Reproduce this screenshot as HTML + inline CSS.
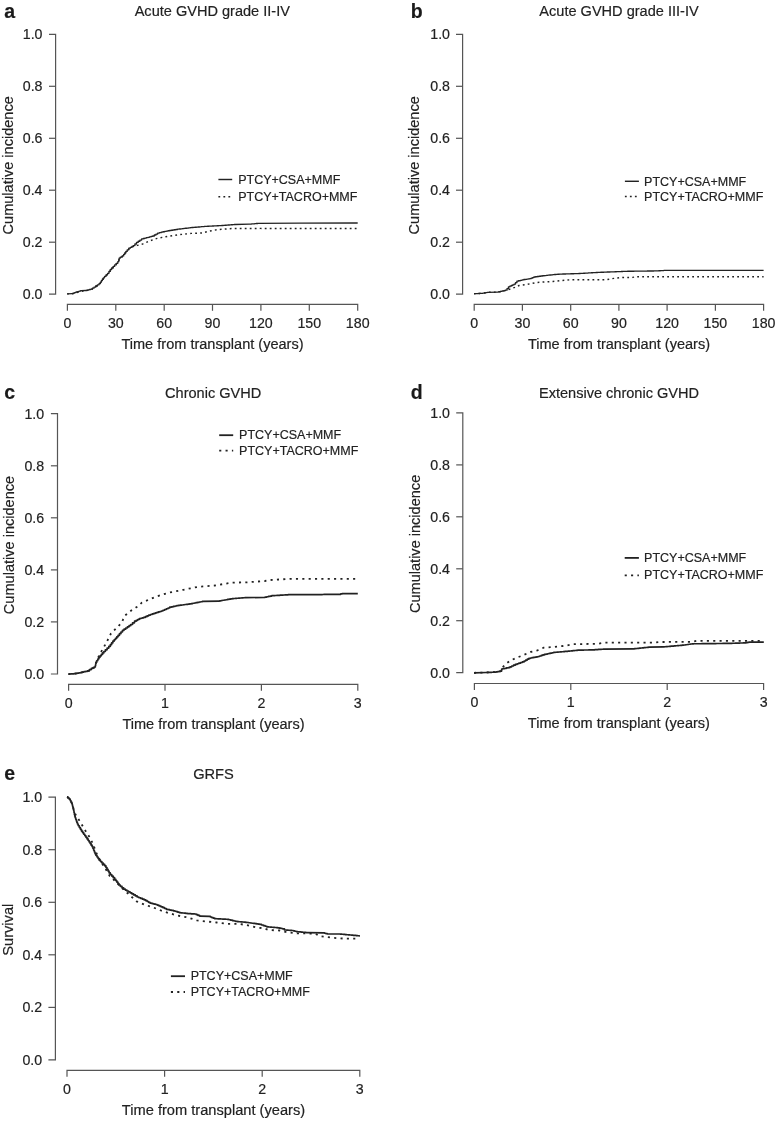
<!DOCTYPE html>
<html><head><meta charset="utf-8"><title>Figure</title>
<style>
html,body{margin:0;padding:0;background:#fff;}
svg text{stroke:#222;stroke-width:0.18px;}
svg{display:block;font-family:"Liberation Sans",sans-serif;will-change:transform;filter:grayscale(1);}
</style></head>
<body>
<svg width="776" height="1122" viewBox="0 0 776 1122">
<rect width="776" height="1122" fill="#fff"/>
<text x="4.2" y="17.6" font-size="19.5" font-weight="bold" fill="#1a1a1a">a</text>
<text x="212.3" y="16.2" font-size="14.55" text-anchor="middle" fill="#222">Acute GVHD grade II-IV</text>
<path d="M49.0,34.4H55.6V294.1H49.0" fill="none" stroke="#555" stroke-width="1.2"/>
<text x="42.5" y="298.9" font-size="14.2" text-anchor="end" fill="#222">0.0</text>
<path d="M49.0,242.2H55.6" stroke="#555" stroke-width="1.2"/>
<text x="42.5" y="247.0" font-size="14.2" text-anchor="end" fill="#222">0.2</text>
<path d="M49.0,190.2H55.6" stroke="#555" stroke-width="1.2"/>
<text x="42.5" y="195.0" font-size="14.2" text-anchor="end" fill="#222">0.4</text>
<path d="M49.0,138.3H55.6" stroke="#555" stroke-width="1.2"/>
<text x="42.5" y="143.1" font-size="14.2" text-anchor="end" fill="#222">0.6</text>
<path d="M49.0,86.3H55.6" stroke="#555" stroke-width="1.2"/>
<text x="42.5" y="91.1" font-size="14.2" text-anchor="end" fill="#222">0.8</text>
<text x="42.5" y="39.2" font-size="14.2" text-anchor="end" fill="#222">1.0</text>
<path d="M67.4,310.8V304.4H357.7V310.8" fill="none" stroke="#555" stroke-width="1.2"/>
<text x="67.4" y="327.6" font-size="14.2" text-anchor="middle" fill="#222">0</text>
<path d="M115.8,304.4V310.8" stroke="#555" stroke-width="1.2"/>
<text x="115.8" y="327.6" font-size="14.2" text-anchor="middle" fill="#222">30</text>
<path d="M164.2,304.4V310.8" stroke="#555" stroke-width="1.2"/>
<text x="164.2" y="327.6" font-size="14.2" text-anchor="middle" fill="#222">60</text>
<path d="M212.5,304.4V310.8" stroke="#555" stroke-width="1.2"/>
<text x="212.5" y="327.6" font-size="14.2" text-anchor="middle" fill="#222">90</text>
<path d="M260.9,304.4V310.8" stroke="#555" stroke-width="1.2"/>
<text x="260.9" y="327.6" font-size="14.2" text-anchor="middle" fill="#222">120</text>
<path d="M309.3,304.4V310.8" stroke="#555" stroke-width="1.2"/>
<text x="309.3" y="327.6" font-size="14.2" text-anchor="middle" fill="#222">150</text>
<text x="357.7" y="327.6" font-size="14.2" text-anchor="middle" fill="#222">180</text>
<text x="212.5" y="348.9" font-size="14.55" text-anchor="middle" fill="#222">Time from transplant (years)</text>
<text transform="translate(12.9,165.3) rotate(-90)" font-size="14.55" text-anchor="middle" fill="#222">Cumulative incidence</text>
<polyline points="67.1,293.9 72.2,293.8 76.8,292.6 81.3,291.4 85.8,290.9 91.6,289.3 94.8,287.3 99.9,283.7 103.8,277.9 108.3,273.4 110.9,269.6 115.4,265.0 118.6,261.8 119.3,258.3 123.1,256.0 126.4,251.5 129.6,248.3 134.1,245.8 137.3,245.4 142.5,244.1 147.6,241.8 152.8,239.8 157.1,238.4 164.2,237.0 178.3,234.8 191.1,233.4 202.4,233.0 208.1,231.3 218.0,229.6 232.2,228.5 260.0,228.4 357.7,228.4" fill="none" stroke="#222" stroke-width="1.45" stroke-dasharray="1.8 3.2" stroke-linejoin="round"/>
<path d="M67.1,293.9L72.2,293.7H72.97V293.13H74.50V292.57H76.03V292.00H76.8H77.55V291.57H79.05V291.13H80.55V290.70H81.3L85.8,290.5H86.52V290.18H87.97V289.85H89.42V289.52H90.88V289.20H91.6H92.40V288.20H94.00V287.20H94.8H95.65V286.00H97.35V284.80H99.05V283.60H99.9H100.39V282.15H101.36V280.70H102.34V279.25H103.31V277.80H103.8H104.55V276.30H106.05V274.80H107.55V273.30H108.3H108.95V271.40H110.25V269.50H110.9H111.65V267.97H113.15V266.43H114.65V264.90H115.4H116.20V263.30H117.80V261.70H118.6H118.77V259.95H119.12V258.20H119.3H120.25V257.05H122.15V255.90H123.1H123.65V254.40H124.75V252.90H125.85V251.40H126.4H127.20V249.80H128.80V248.20H129.6H130.35V247.33H131.85V246.47H133.35V245.60H134.1H134.90V244.00H136.50V242.40H137.3H138.17V241.23H139.90V240.07H141.63V238.90H142.5H143.27V238.50H144.81V238.10H146.35V237.70H147.89V237.30H149.43V236.90H150.2H151.02V236.45H152.68V236.00H153.5H154.33V235.03H156.00V234.07H157.67V233.10H158.5H159.39V232.65H161.16V232.20H162.94V231.75H164.71V231.30H165.6H166.39V231.04H167.98V230.78H169.57V230.51H171.16V230.25H172.74V229.99H174.33V229.72H175.92V229.46H177.51V229.20H178.3H179.09V229.01H180.67V228.82H182.24V228.63H183.82V228.44H185.40V228.26H186.98V228.07H188.56V227.88H190.13V227.69H191.71V227.50H192.5H193.29V227.37H194.87V227.23H196.44V227.10H198.02V226.97H199.60V226.83H201.18V226.70H202.76V226.57H204.33V226.43H205.91V226.30H206.7H207.49V226.22H209.07V226.14H210.64V226.07H212.22V225.99H213.80V225.91H215.38V225.83H216.96V225.76H218.53V225.68H220.11V225.60H220.9H221.68V225.48H223.25V225.36H224.82V225.23H226.38V225.11H227.95V224.99H229.52V224.87H231.08V224.74H232.65V224.62H234.22V224.50H235.0L249.2,224.2H249.97V224.07H251.52V223.93H253.07V223.80H254.62V223.67H256.18V223.53H257.73V223.40H258.5L300.0,223.2L357.7,223.0" fill="none" stroke="#222" stroke-width="1.33" stroke-linejoin="round"/>
<path d="M218.4,179.5H232.2" stroke="#222" stroke-width="1.45"/>
<path d="M218.4,196.8H232.2" stroke="#222" stroke-width="1.45" stroke-dasharray="1.8 3.2"/>
<text x="238.2" y="183.7" font-size="12.5" fill="#222">PTCY+CSA+MMF</text>
<text x="238.2" y="201.4" font-size="12.5" fill="#222">PTCY+TACRO+MMF</text>
<text x="410.8" y="17.6" font-size="19.5" font-weight="bold" fill="#1a1a1a">b</text>
<text x="619" y="16.2" font-size="14.55" text-anchor="middle" fill="#222">Acute GVHD grade III-IV</text>
<path d="M456.0,34.4H462.6V294.1H456.0" fill="none" stroke="#555" stroke-width="1.2"/>
<text x="450.0" y="298.9" font-size="14.2" text-anchor="end" fill="#222">0.0</text>
<path d="M456.0,242.2H462.6" stroke="#555" stroke-width="1.2"/>
<text x="450.0" y="247.0" font-size="14.2" text-anchor="end" fill="#222">0.2</text>
<path d="M456.0,190.2H462.6" stroke="#555" stroke-width="1.2"/>
<text x="450.0" y="195.0" font-size="14.2" text-anchor="end" fill="#222">0.4</text>
<path d="M456.0,138.3H462.6" stroke="#555" stroke-width="1.2"/>
<text x="450.0" y="143.1" font-size="14.2" text-anchor="end" fill="#222">0.6</text>
<path d="M456.0,86.3H462.6" stroke="#555" stroke-width="1.2"/>
<text x="450.0" y="91.1" font-size="14.2" text-anchor="end" fill="#222">0.8</text>
<text x="450.0" y="39.2" font-size="14.2" text-anchor="end" fill="#222">1.0</text>
<path d="M474.2,310.8V304.4H763.6V310.8" fill="none" stroke="#555" stroke-width="1.2"/>
<text x="474.2" y="327.6" font-size="14.2" text-anchor="middle" fill="#222">0</text>
<path d="M522.4,304.4V310.8" stroke="#555" stroke-width="1.2"/>
<text x="522.4" y="327.6" font-size="14.2" text-anchor="middle" fill="#222">30</text>
<path d="M570.7,304.4V310.8" stroke="#555" stroke-width="1.2"/>
<text x="570.7" y="327.6" font-size="14.2" text-anchor="middle" fill="#222">60</text>
<path d="M618.9,304.4V310.8" stroke="#555" stroke-width="1.2"/>
<text x="618.9" y="327.6" font-size="14.2" text-anchor="middle" fill="#222">90</text>
<path d="M667.1,304.4V310.8" stroke="#555" stroke-width="1.2"/>
<text x="667.1" y="327.6" font-size="14.2" text-anchor="middle" fill="#222">120</text>
<path d="M715.4,304.4V310.8" stroke="#555" stroke-width="1.2"/>
<text x="715.4" y="327.6" font-size="14.2" text-anchor="middle" fill="#222">150</text>
<text x="763.6" y="327.6" font-size="14.2" text-anchor="middle" fill="#222">180</text>
<text x="619.0" y="348.9" font-size="14.55" text-anchor="middle" fill="#222">Time from transplant (years)</text>
<text transform="translate(419.2,165.3) rotate(-90)" font-size="14.55" text-anchor="middle" fill="#222">Cumulative incidence</text>
<polyline points="474.0,293.7 482.2,293.3 487.8,292.3 497.8,292.1 506.3,290.2 510.5,289.0 514.8,287.3 519.0,285.5 527.5,284.3 536.0,282.6 544.5,281.9 553.0,281.5 561.5,280.5 570.0,279.8 605.4,279.8 613.9,278.4 622.4,277.4 632.4,277.4 636.6,276.7 763.6,276.7" fill="none" stroke="#222" stroke-width="1.45" stroke-dasharray="1.8 3.2" stroke-linejoin="round"/>
<path d="M474.0,293.7H474.82V293.62H476.46V293.54H478.10V293.46H479.74V293.38H481.38V293.30H482.2H482.90V293.05H484.30V292.80H485.70V292.55H487.10V292.30H487.8L497.8,292.1H498.65V291.72H500.35V291.34H502.05V290.96H503.75V290.58H505.45V290.20H506.3H507.00V288.55H508.40V286.90H509.1H509.81V286.20H511.24V285.50H512.66V284.80H514.09V284.10H514.8H515.50V282.65H516.90V281.20H517.6H518.49V280.77H520.26V280.35H522.04V279.93H523.81V279.50H524.7H525.41V279.30H526.84V279.10H528.26V278.90H529.69V278.70H530.4H531.10V278.13H532.50V277.57H533.90V277.00H534.6H535.49V276.75H537.26V276.50H539.04V276.25H540.81V276.00H541.7H542.59V275.77H544.36V275.55H546.14V275.33H547.91V275.10H548.8H549.61V274.96H551.22V274.81H552.84V274.67H554.45V274.53H556.06V274.39H557.68V274.24H559.29V274.10H560.1H560.91V274.05H562.54V274.01H564.17V273.96H565.80V273.92H567.42V273.87H569.05V273.83H570.68V273.78H572.30V273.74H573.93V273.69H575.56V273.65H577.19V273.60H578.0H578.78V273.51H580.34V273.42H581.90V273.32H583.47V273.23H585.03V273.14H586.59V273.05H588.15V272.95H589.71V272.86H591.27V272.77H592.83V272.68H594.40V272.58H595.96V272.49H597.52V272.40H598.3H599.09V272.34H600.67V272.28H602.24V272.22H603.82V272.16H605.40V272.09H606.98V272.03H608.56V271.97H610.13V271.91H611.71V271.85H613.29V271.79H614.87V271.73H616.44V271.67H618.02V271.61H619.60V271.54H621.18V271.48H622.76V271.42H624.33V271.36H625.91V271.30H626.7H627.52V271.28H629.16V271.26H630.81V271.24H632.45V271.22H634.09V271.19H635.73V271.17H637.37V271.15H639.02V271.13H640.66V271.11H642.30V271.09H643.94V271.07H645.58V271.05H647.23V271.03H648.87V271.01H650.51V270.98H652.15V270.96H653.79V270.94H655.44V270.92H657.08V270.90H657.9H658.75V270.78H660.45V270.66H662.15V270.54H663.85V270.42H665.55V270.30H666.4L763.6,270.3" fill="none" stroke="#222" stroke-width="1.33" stroke-linejoin="round"/>
<path d="M624.9,181.3H638.9" stroke="#222" stroke-width="1.45"/>
<path d="M624.9,196.5H638.9" stroke="#222" stroke-width="1.45" stroke-dasharray="1.8 3.2"/>
<text x="644.1" y="185.6" font-size="12.5" fill="#222">PTCY+CSA+MMF</text>
<text x="644.1" y="201.3" font-size="12.5" fill="#222">PTCY+TACRO+MMF</text>
<text x="4.2" y="399.3" font-size="19.5" font-weight="bold" fill="#1a1a1a">c</text>
<text x="213.2" y="398.1" font-size="14.55" text-anchor="middle" fill="#222">Chronic GVHD</text>
<path d="M50.9,413.7H57.5V674.0H50.9" fill="none" stroke="#555" stroke-width="1.2"/>
<text x="44.2" y="678.8" font-size="14.2" text-anchor="end" fill="#222">0.0</text>
<path d="M50.9,621.9H57.5" stroke="#555" stroke-width="1.2"/>
<text x="44.2" y="626.7" font-size="14.2" text-anchor="end" fill="#222">0.2</text>
<path d="M50.9,569.9H57.5" stroke="#555" stroke-width="1.2"/>
<text x="44.2" y="574.7" font-size="14.2" text-anchor="end" fill="#222">0.4</text>
<path d="M50.9,517.8H57.5" stroke="#555" stroke-width="1.2"/>
<text x="44.2" y="522.6" font-size="14.2" text-anchor="end" fill="#222">0.6</text>
<path d="M50.9,465.8H57.5" stroke="#555" stroke-width="1.2"/>
<text x="44.2" y="470.6" font-size="14.2" text-anchor="end" fill="#222">0.8</text>
<text x="44.2" y="418.5" font-size="14.2" text-anchor="end" fill="#222">1.0</text>
<path d="M68.6,690.8V684.4H357.8V690.8" fill="none" stroke="#555" stroke-width="1.2"/>
<text x="68.6" y="707.6" font-size="14.2" text-anchor="middle" fill="#222">0</text>
<path d="M165.0,684.4V690.8" stroke="#555" stroke-width="1.2"/>
<text x="165.0" y="707.6" font-size="14.2" text-anchor="middle" fill="#222">1</text>
<path d="M261.4,684.4V690.8" stroke="#555" stroke-width="1.2"/>
<text x="261.4" y="707.6" font-size="14.2" text-anchor="middle" fill="#222">2</text>
<text x="357.8" y="707.6" font-size="14.2" text-anchor="middle" fill="#222">3</text>
<text x="213.5" y="728.7" font-size="14.55" text-anchor="middle" fill="#222">Time from transplant (years)</text>
<text transform="translate(14.2,545.0) rotate(-90)" font-size="14.55" text-anchor="middle" fill="#222">Cumulative incidence</text>
<polyline points="68.4,674.1 74.9,673.7 81.3,672.5 88.4,670.9 92.3,668.3 95.2,667.0 96.1,662.5 99.4,654.7 103.2,648.3 107.1,641.2 111.0,633.5 117.4,627.0 121.3,623.2 125.1,615.4 131.6,610.3 136.7,607.1 141.9,602.6 149.6,599.3 156.1,596.6 169.2,592.6 183.3,589.8 197.5,586.9 214.5,585.5 231.5,582.7 247.1,582.3 265.0,581.0 269.2,580.1 290.4,578.8 357.8,578.8" fill="none" stroke="#222" stroke-width="1.8" stroke-dasharray="2.1 4.25" stroke-linejoin="round"/>
<path d="M68.4,674.1H69.21V674.00H70.84V673.90H72.46V673.80H74.09V673.70H74.9H75.70V673.40H77.30V673.10H78.90V672.80H80.50V672.50H81.3H82.19V672.10H83.96V671.70H85.74V671.30H87.51V670.90H88.4H89.38V669.60H91.33V668.30H92.3H93.03V667.65H94.47V667.00H95.2H95.35V665.50H95.65V664.00H95.95V662.50H96.1H96.65V660.77H97.75V659.03H98.85V657.30H99.4H100.04V655.85H101.31V654.40H102.59V652.95H103.86V651.50H104.5H105.37V649.80H107.10V648.10H108.83V646.40H109.7H110.33V644.67H111.60V642.93H112.87V641.20H113.5H114.15V639.75H115.45V638.30H116.75V636.85H118.05V635.40H118.7H119.45V633.70H120.95V632.00H122.45V630.30H123.2H124.04V629.14H125.72V627.98H127.40V626.82H129.08V625.66H130.76V624.50H131.6H132.57V622.85H134.53V621.20H135.5H136.25V620.37H137.75V619.53H139.25V618.70H140.0H140.75V618.27H142.25V617.83H143.75V617.40H144.5H145.35V616.63H147.05V615.87H148.75V615.10H149.6H150.47V614.50H152.20V613.90H153.93V613.30H154.8H155.53V612.84H156.99V612.38H158.45V611.92H159.91V611.46H161.37V611.00H162.1H162.95V610.24H164.65V609.48H166.35V608.72H168.05V607.96H169.75V607.20H170.6H171.49V606.80H173.26V606.40H175.04V606.00H176.81V605.60H177.7H178.49V605.39H180.08V605.17H181.67V604.96H183.26V604.75H184.84V604.54H186.43V604.33H188.02V604.11H189.61V603.90H190.4H191.20V603.59H192.80V603.27H194.40V602.96H196.00V602.65H197.60V602.34H199.20V602.02H200.80V601.71H202.40V601.40H203.2L218.8,601.1H219.59V600.82H221.17V600.54H222.74V600.27H224.32V599.99H225.90V599.71H227.48V599.43H229.06V599.16H230.63V598.88H232.21V598.60H233.0H233.79V598.48H235.38V598.35H236.97V598.23H238.56V598.10H240.14V597.98H241.73V597.85H243.32V597.73H244.91V597.60H245.7L264.2,597.5H265.05V597.14H266.75V596.78H268.45V596.42H270.15V596.06H271.85V595.70H272.7H273.51V595.60H275.14V595.50H276.77V595.40H278.40V595.30H280.03V595.20H281.67V595.10H283.30V595.00H284.93V594.90H286.56V594.80H288.19V594.70H289.0L321.6,594.7H322.33V594.50H323.77V594.30H324.5L340.0,594.3H340.73V593.95H342.17V593.60H342.9L357.8,593.6" fill="none" stroke="#222" stroke-width="1.66" stroke-linejoin="round"/>
<path d="M219.2,435.2H233.2" stroke="#222" stroke-width="1.8"/>
<path d="M219.2,450.6H233.2" stroke="#222" stroke-width="1.8" stroke-dasharray="2.1 4.25"/>
<text x="239.05" y="439.3" font-size="12.5" fill="#222">PTCY+CSA+MMF</text>
<text x="239.05" y="454.6" font-size="12.5" fill="#222">PTCY+TACRO+MMF</text>
<text x="410.8" y="399.3" font-size="19.5" font-weight="bold" fill="#1a1a1a">d</text>
<text x="619" y="398.0" font-size="14.55" text-anchor="middle" fill="#222">Extensive chronic GVHD</text>
<path d="M456.2,412.9H462.8V672.7H456.2" fill="none" stroke="#555" stroke-width="1.2"/>
<text x="450.0" y="677.5" font-size="14.2" text-anchor="end" fill="#222">0.0</text>
<path d="M456.2,620.7H462.8" stroke="#555" stroke-width="1.2"/>
<text x="450.0" y="625.5" font-size="14.2" text-anchor="end" fill="#222">0.2</text>
<path d="M456.2,568.8H462.8" stroke="#555" stroke-width="1.2"/>
<text x="450.0" y="573.6" font-size="14.2" text-anchor="end" fill="#222">0.4</text>
<path d="M456.2,516.8H462.8" stroke="#555" stroke-width="1.2"/>
<text x="450.0" y="521.6" font-size="14.2" text-anchor="end" fill="#222">0.6</text>
<path d="M456.2,464.9H462.8" stroke="#555" stroke-width="1.2"/>
<text x="450.0" y="469.7" font-size="14.2" text-anchor="end" fill="#222">0.8</text>
<text x="450.0" y="417.7" font-size="14.2" text-anchor="end" fill="#222">1.0</text>
<path d="M474.4,689.9V683.5H763.6V689.9" fill="none" stroke="#555" stroke-width="1.2"/>
<text x="474.4" y="706.8" font-size="14.2" text-anchor="middle" fill="#222">0</text>
<path d="M570.8,683.5V689.9" stroke="#555" stroke-width="1.2"/>
<text x="570.8" y="706.8" font-size="14.2" text-anchor="middle" fill="#222">1</text>
<path d="M667.2,683.5V689.9" stroke="#555" stroke-width="1.2"/>
<text x="667.2" y="706.8" font-size="14.2" text-anchor="middle" fill="#222">2</text>
<text x="763.6" y="706.8" font-size="14.2" text-anchor="middle" fill="#222">3</text>
<text x="618.9" y="728.0" font-size="14.55" text-anchor="middle" fill="#222">Time from transplant (years)</text>
<text transform="translate(419.5,543.9) rotate(-90)" font-size="14.55" text-anchor="middle" fill="#222">Cumulative incidence</text>
<polyline points="474.0,672.8 486.4,672.5 495.6,672.1 501.3,671.1 502.0,668.0 505.6,664.0 510.5,660.5 516.9,657.6 523.3,655.2 530.4,652.0 537.5,650.3 543.8,647.7 553.0,647.0 564.4,645.9 572.9,644.2 598.3,643.8 604.0,642.7 653.6,642.7 659.3,642.0 691.5,641.9 696.5,640.9 763.6,640.9" fill="none" stroke="#222" stroke-width="1.8" stroke-dasharray="2.1 4.25" stroke-linejoin="round"/>
<path d="M474.0,672.8L486.4,672.5H487.17V672.43H488.70V672.37H490.23V672.30H491.77V672.23H493.30V672.17H494.83V672.10H495.6H496.31V671.85H497.74V671.60H499.16V671.35H500.59V671.10H501.3H501.65V669.00H502.0H502.89V668.65H504.66V668.30H506.44V667.95H508.21V667.60H509.1H509.99V666.80H511.76V666.00H513.54V665.20H515.31V664.40H516.2H517.09V663.77H518.86V663.15H520.64V662.52H522.41V661.90H523.3H524.10V661.00H525.70V660.10H527.30V659.20H528.90V658.30H529.7H530.47V658.00H532.00V657.70H533.53V657.40H535.07V657.10H536.60V656.80H538.13V656.50H538.9H539.69V655.98H541.26V655.45H542.84V654.92H544.41V654.40H545.2H545.98V654.07H547.53V653.73H549.08V653.40H550.62V653.07H552.17V652.73H553.73V652.40H554.5H555.29V652.26H556.88V652.12H558.47V651.99H560.06V651.85H561.64V651.71H563.23V651.57H564.82V651.44H566.41V651.30H567.2H568.01V651.14H569.62V650.99H571.24V650.83H572.85V650.67H574.46V650.51H576.08V650.36H577.69V650.20H578.5H579.28V650.16H580.84V650.12H582.40V650.08H583.96V650.04H585.52V650.00H587.08V649.96H588.64V649.92H590.20V649.88H591.76V649.84H593.32V649.80H594.1H594.93V649.68H596.58V649.57H598.23V649.45H599.88V649.33H601.52V649.22H603.17V649.10H604.0L633.8,648.8H634.58V648.64H636.14V648.48H637.70V648.32H639.26V648.16H640.82V648.00H642.38V647.84H643.94V647.68H645.50V647.52H647.06V647.36H648.62V647.20H649.4L663.5,646.9H664.31V646.76H665.94V646.62H667.56V646.48H669.19V646.33H670.81V646.19H672.44V646.05H674.06V645.91H675.69V645.77H677.31V645.62H678.94V645.48H680.56V645.34H682.19V645.20H683.0H683.83V644.97H685.48V644.73H687.12V644.50H688.77V644.27H690.42V644.03H692.07V643.80H692.9H693.71V643.78H695.32V643.76H696.93V643.75H698.55V643.73H700.16V643.71H701.77V643.69H703.39V643.67H705.00V643.65H706.62V643.64H708.23V643.62H709.84V643.60H711.46V643.58H713.07V643.56H714.68V643.55H716.30V643.53H717.91V643.51H719.52V643.49H721.14V643.47H722.75V643.45H724.37V643.44H725.98V643.42H727.59V643.40H728.4H729.17V643.35H730.72V643.31H732.26V643.26H733.81V643.22H735.35V643.17H736.90V643.13H738.45V643.08H739.99V643.04H741.54V642.99H743.08V642.95H744.63V642.90H745.4H746.10V642.67H747.50V642.43H748.90V642.20H749.6L763.8,642.2" fill="none" stroke="#222" stroke-width="1.66" stroke-linejoin="round"/>
<path d="M624.7,557.9H638.9" stroke="#222" stroke-width="1.8"/>
<path d="M624.7,575.4H638.9" stroke="#222" stroke-width="1.8" stroke-dasharray="2.1 4.25"/>
<text x="644.1" y="561.7" font-size="12.5" fill="#222">PTCY+CSA+MMF</text>
<text x="644.1" y="579.0" font-size="12.5" fill="#222">PTCY+TACRO+MMF</text>
<text x="4.2" y="780.4" font-size="19.5" font-weight="bold" fill="#1a1a1a">e</text>
<text x="213.5" y="779.4" font-size="14.65" text-anchor="middle" fill="#222">GRFS</text>
<path d="M48.4,797.2H55.4V1059.9H48.4" fill="none" stroke="#555" stroke-width="1.2"/>
<text x="42.2" y="1064.7" font-size="14.2" text-anchor="end" fill="#222">0.0</text>
<path d="M48.4,1007.4H55.4" stroke="#555" stroke-width="1.2"/>
<text x="42.2" y="1012.2" font-size="14.2" text-anchor="end" fill="#222">0.2</text>
<path d="M48.4,954.8H55.4" stroke="#555" stroke-width="1.2"/>
<text x="42.2" y="959.6" font-size="14.2" text-anchor="end" fill="#222">0.4</text>
<path d="M48.4,902.3H55.4" stroke="#555" stroke-width="1.2"/>
<text x="42.2" y="907.1" font-size="14.2" text-anchor="end" fill="#222">0.6</text>
<path d="M48.4,849.7H55.4" stroke="#555" stroke-width="1.2"/>
<text x="42.2" y="854.5" font-size="14.2" text-anchor="end" fill="#222">0.8</text>
<text x="42.2" y="802.0" font-size="14.2" text-anchor="end" fill="#222">1.0</text>
<path d="M67.0,1076.8V1070.4H359.8V1076.8" fill="none" stroke="#555" stroke-width="1.2"/>
<text x="67.0" y="1093.6" font-size="14.2" text-anchor="middle" fill="#222">0</text>
<path d="M164.6,1070.4V1076.8" stroke="#555" stroke-width="1.2"/>
<text x="164.6" y="1093.6" font-size="14.2" text-anchor="middle" fill="#222">1</text>
<path d="M262.2,1070.4V1076.8" stroke="#555" stroke-width="1.2"/>
<text x="262.2" y="1093.6" font-size="14.2" text-anchor="middle" fill="#222">2</text>
<text x="359.8" y="1093.6" font-size="14.2" text-anchor="middle" fill="#222">3</text>
<text x="213.5" y="1114.9" font-size="14.65" text-anchor="middle" fill="#222">Time from transplant (years)</text>
<text transform="translate(12.9,929.7) rotate(-90)" font-size="14.65" text-anchor="middle" fill="#222">Survival</text>
<polyline points="67.1,796.8 69.9,799.2 72.0,803.5 73.5,809.1 75.6,814.8 79.8,821.2 84.8,829.7 89.8,837.5 93.3,844.6 96.1,852.4 100.4,860.9 105.4,868.7 109.6,875.8 116.7,882.8 123.1,889.2 129.5,894.9 136.5,901.3 145.0,904.8 153.6,907.6 162.1,910.9 168.5,913.0 177.0,915.4 188.3,917.6 196.9,920.4 206.8,921.5 216.7,922.5 228.0,923.9 239.4,923.9 247.9,925.4 256.4,927.5 263.5,928.2 268.5,930.0 279.8,930.5 285.5,931.9 296.9,933.3 315.3,933.6 319.5,936.1 330.9,937.6 343.6,938.6 356.4,938.6" fill="none" stroke="#222" stroke-width="1.8" stroke-dasharray="2.1 4.25" stroke-linejoin="round"/>
<path d="M67.1,796.8H67.80V798.00H69.20V799.20H69.9H70.25V800.63H70.95V802.07H71.65V803.50H72.0H72.19V804.90H72.56V806.30H72.94V807.70H73.31V809.10H73.5H73.67V810.88H74.03V812.65H74.38V814.43H74.73V816.20H74.9H75.18V817.76H75.74V819.32H76.30V820.88H76.86V822.44H77.42V824.00H77.7H78.24V825.77H79.31V827.55H80.39V829.33H81.46V831.10H82.0H82.56V832.66H83.68V834.22H84.80V835.78H85.92V837.34H87.04V838.90H87.6H88.10V840.46H89.10V842.02H90.10V843.58H91.10V845.14H92.10V846.70H92.6H92.95V848.48H93.65V850.25H94.35V852.02H95.05V853.80H95.4H95.94V855.40H97.01V857.00H98.09V858.60H99.16V860.20H99.7H100.41V861.60H101.84V863.00H103.26V864.40H104.69V865.80H105.4H105.93V867.57H106.97V869.35H108.03V871.12H109.07V872.90H109.6H110.31V874.50H111.74V876.10H113.16V877.70H114.59V879.30H115.3H115.83V880.72H116.88V882.15H117.92V883.58H118.97V885.00H119.5H120.33V886.40H122.00V887.80H123.67V889.20H124.5H125.30V890.10H126.90V891.00H128.50V891.90H130.10V892.80H130.9H131.79V893.85H133.56V894.90H135.34V895.95H137.11V897.00H138.0H138.88V897.73H140.62V898.45H142.38V899.17H144.12V899.90H145.0H145.71V900.70H147.14V901.50H148.56V902.30H149.99V903.10H150.7H151.41V903.45H152.84V903.80H154.26V904.15H155.69V904.50H156.4H157.11V905.10H158.54V905.70H159.96V906.30H161.39V906.90H162.1H162.93V907.70H164.60V908.50H166.27V909.30H167.1H167.99V909.67H169.76V910.05H171.54V910.42H173.31V910.80H174.2H174.90V911.25H176.30V911.70H177.70V912.15H179.10V912.60H179.8H180.65V912.80H182.35V913.00H184.05V913.20H185.75V913.40H187.45V913.60H188.3H189.19V913.70H190.96V913.80H192.74V913.90H194.51V914.00H195.4H196.23V914.70H197.90V915.40H199.57V916.10H200.4L209.6,916.4H210.31V916.98H211.74V917.55H213.16V918.12H214.59V918.70H215.3H216.09V918.78H217.68V918.85H219.27V918.92H220.86V919.00H222.44V919.08H224.03V919.15H225.62V919.22H227.21V919.30H228.0H228.85V919.72H230.55V920.14H232.25V920.56H233.95V920.98H235.65V921.40H236.5H237.31V921.56H238.94V921.71H240.57V921.87H242.20V922.03H243.83V922.19H245.46V922.34H247.09V922.50H247.9H248.69V922.74H250.28V922.98H251.87V923.21H253.46V923.45H255.04V923.69H256.63V923.92H258.22V924.16H259.81V924.40H260.6H261.50V925.02H263.30V925.65H265.10V926.27H266.90V926.90H267.8H268.57V927.02H270.10V927.13H271.63V927.25H273.17V927.37H274.70V927.48H276.23V927.60H277.0H277.80V927.90H279.40V928.20H281.00V928.50H282.60V928.80H283.4H284.45V930.00H285.5H286.39V930.12H288.16V930.25H289.94V930.38H291.71V930.50H292.6H293.32V930.87H294.75V931.23H296.18V931.60H296.9H297.72V931.77H299.38V931.93H301.02V932.10H302.68V932.27H304.32V932.43H305.98V932.60H306.8L323.8,932.9H324.50V933.27H325.90V933.63H327.30V934.00H328.0L339.4,934.0H340.21V934.14H341.82V934.29H343.44V934.43H345.05V934.57H346.66V934.71H348.28V934.86H349.89V935.00H350.7H351.47V935.15H353.00V935.30H354.53V935.45H356.07V935.60H357.60V935.75H359.13V935.90H359.9" fill="none" stroke="#222" stroke-width="1.66" stroke-linejoin="round"/>
<path d="M170.9,976.2H185.0" stroke="#222" stroke-width="1.8"/>
<path d="M170.9,992.0H185.0" stroke="#222" stroke-width="1.8" stroke-dasharray="2.1 4.25"/>
<text x="190.65" y="980.4" font-size="12.5" fill="#222">PTCY+CSA+MMF</text>
<text x="190.65" y="995.8" font-size="12.5" fill="#222">PTCY+TACRO+MMF</text>
</svg>
</body></html>
